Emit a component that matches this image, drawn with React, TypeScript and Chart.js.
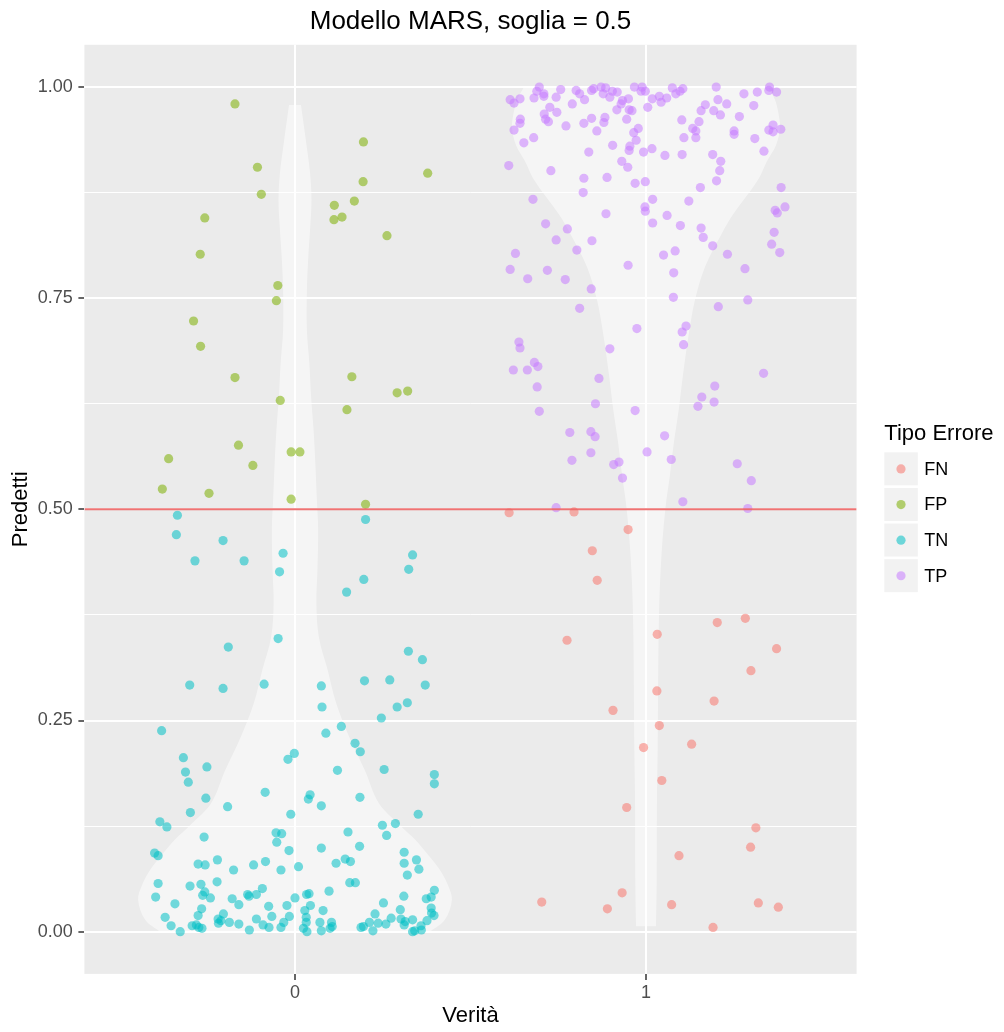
import React, { useEffect, useRef } from 'react';
import { Chart, registerables } from 'chart.js';

Chart.register(...registerables);

// ---------------- data ----------------
const chartTitle = 'Modello MARS, soglia = 0.5';
const xAxisTitle = 'Verità';
const yAxisTitle = 'Predetti';
const legendTitle = 'Tipo Errore';

const categories = ['FN', 'FP', 'TN', 'TP'];
const categoryColors = [
  'rgba(248,118,109,0.55)',
  'rgba(124,174,0,0.55)',
  'rgba(0,191,196,0.55)',
  'rgba(199,124,255,0.55)',
];

const xTickValues = [0, 1];
const xTickLabels = ['0', '1'];
const yMajorValues = [0, 0.25, 0.5, 0.75, 1];
const yTickLabels = ['0.00', '0.25', '0.50', '0.75', '1.00'];
const yMinorValues = [0.125, 0.375, 0.625, 0.875];
const threshold = 0.5;

const fnX = [0.610,0.795,0.949,0.847,0.861,1.203,1.283,0.775,1.032,1.372,
  1.299,1.031,1.194,0.906,1.038,1.130,0.993,1.045,0.945,1.313,
  1.298,1.094,0.932,0.703,0.890,1.073,1.320,1.377,1.191];
const fnY = [0.496,0.497,0.476,0.451,0.416,0.366,0.371,0.345,0.352,0.335,
  0.309,0.285,0.273,0.262,0.244,0.222,0.218,0.179,0.147,0.123,
  0.100,0.090,0.046,0.035,0.027,0.032,0.034,0.029,0.005];

const fpX = [-0.171,0.195,-0.107,0.378,0.194,-0.096,0.112,0.169,-0.257,0.111,
  0.134,0.262,-0.270,-0.049,-0.053,-0.289,-0.269,-0.171,0.162,0.291,
  0.321,-0.042,0.148,-0.161,-0.360,-0.120,-0.011,0.014,-0.378,-0.245,
  -0.011,0.201];
const fpY = [0.980,0.935,0.905,0.898,0.888,0.873,0.860,0.865,0.845,0.843,
  0.846,0.824,0.802,0.765,0.747,0.723,0.693,0.656,0.657,0.638,
  0.640,0.629,0.618,0.576,0.560,0.552,0.568,0.568,0.524,0.519,
  0.512,0.506];

const tnX = [-0.335,-0.338,-0.205,-0.285,-0.145,-0.034,-0.044,0.201,0.335,0.324,
  0.196,0.147,-0.048,-0.190,0.323,0.363,-0.300,-0.205,-0.088,0.075,
  0.198,0.270,0.371,0.077,0.320,0.291,0.246,-0.380,0.132,0.088,
  0.171,0.186,-0.318,-0.002,-0.020,-0.312,-0.251,0.121,0.254,0.397,
  0.397,-0.304,-0.254,-0.085,0.043,0.038,0.185,0.075,-0.192,-0.298,
  -0.012,-0.385,-0.365,-0.259,-0.054,-0.038,-0.052,-0.017,-0.400,-0.390,
  -0.221,-0.276,-0.256,-0.118,-0.084,-0.175,-0.040,0.010,-0.390,-0.299,
  -0.268,-0.222,-0.257,-0.263,-0.241,-0.397,-0.135,-0.131,-0.110,-0.093,
  -0.179,-0.160,-0.342,-0.266,-0.075,-0.023,0.000,-0.276,-0.370,-0.204,
  -0.219,-0.066,-0.016,-0.110,-0.353,-0.327,-0.293,-0.281,-0.274,-0.265,
  -0.218,-0.211,-0.187,-0.160,-0.130,-0.091,-0.074,-0.040,-0.032,
  0.351,0.249,0.286,0.261,0.151,0.075,0.184,0.311,0.117,0.143,
  0.158,0.311,0.346,0.353,0.320,0.156,0.172,0.033,0.040,0.097,
  0.310,0.397,0.374,0.388,0.044,0.080,0.252,0.300,0.388,0.028,
  0.032,0.032,0.396,0.389,0.071,0.104,0.228,0.274,0.237,0.259,
  0.302,0.314,0.335,0.376,0.212,0.106,0.100,0.188,0.195,0.311,
  0.359,0.024,0.034,0.075,0.222,0.335,0.341,0.360];
const tnY = [0.493,0.470,0.463,0.439,0.439,0.448,0.426,0.488,0.446,0.429,
  0.417,0.402,0.347,0.337,0.332,0.322,0.292,0.288,0.293,0.291,
  0.297,0.298,0.292,0.266,0.271,0.266,0.253,0.238,0.243,0.235,
  0.223,0.213,0.206,0.211,0.204,0.189,0.195,0.191,0.192,0.186,
  0.175,0.177,0.158,0.165,0.162,0.157,0.159,0.149,0.148,0.141,
  0.139,0.130,0.124,0.112,0.117,0.116,0.106,0.096,0.093,0.090,
  0.085,0.080,0.079,0.079,0.083,0.073,0.073,0.077,0.057,0.054,
  0.056,0.059,0.047,0.043,0.040,0.041,0.044,0.042,0.044,0.051,
  0.039,0.032,0.033,0.027,0.030,0.031,0.040,0.019,0.017,0.021,
  0.015,0.018,0.018,0.015,0.007,0.000,0.007,0.008,0.005,0.004,
  0.010,0.013,0.011,0.009,0.002,0.008,0.005,0.005,0.011,
  0.139,0.126,0.128,0.114,0.118,0.099,0.101,0.094,0.081,0.086,
  0.083,0.081,0.085,0.074,0.067,0.058,0.058,0.044,0.045,0.048,
  0.042,0.049,0.039,0.041,0.031,0.025,0.034,0.026,0.028,0.025,
  0.017,0.011,0.019,0.022,0.011,0.011,0.021,0.016,0.010,0.009,
  0.015,0.012,0.014,0.013,0.011,0.006,0.004,0.005,0.006,0.008,
  0.007,0.004,0.000,0.001,0.001,0.000,0.001,0.002];

const tpX = [0.696,0.689,0.709,0.709,0.681,0.613,0.624,0.641,0.744,0.757,
  0.801,0.811,0.825,0.790,0.726,0.746,0.710,0.714,0.722,0.642,
  0.641,0.624,0.845,0.851,0.872,0.885,0.878,0.897,0.904,0.918,
  0.967,0.989,0.986,0.998,0.933,0.929,0.950,0.917,0.952,0.960,
  1.005,0.845,0.823,0.772,0.883,0.880,0.860,0.945,0.978,0.965,
  0.972,0.954,0.952,0.993,0.905,0.837,0.680,0.652,0.931,0.948,
  0.609,0.729,0.823,0.889,0.969,0.998,0.821,0.678,0.997,1.075,
  1.105,1.097,1.085,1.018,1.038,1.059,1.043,1.200,1.279,1.317,
  1.352,1.350,1.372,1.205,1.230,1.169,1.157,1.193,1.212,1.307,
  1.266,1.102,1.151,1.133,1.142,1.142,1.108,1.251,1.251,1.310,
  1.350,1.362,1.362,1.384,1.336,1.017,1.054,1.103,1.190,1.213,
  1.210,1.201,1.155,1.385,1.019,1.122,
  0.886,0.998,1.060,1.019,1.098,1.157,1.163,1.190,1.232,1.282,
  1.368,1.374,1.396,1.365,1.358,1.381,0.714,0.776,0.744,0.846,
  0.803,0.628,0.613,0.663,0.719,0.770,0.949,1.050,1.083,1.079,
  0.844,1.078,1.290,1.206,0.811,0.974,1.114,1.103,1.107,0.638,
  0.641,0.897,0.682,0.692,0.622,0.662,0.866,1.335,
  0.690,1.196,1.159,1.194,1.148,0.856,0.696,0.969,0.783,0.843,
  0.855,1.053,0.843,0.789,1.003,1.072,0.908,0.923,0.933,1.260,
  1.300,1.105,0.744,1.290];
const tpY = [1.000,0.995,0.992,0.989,0.987,0.985,0.981,0.986,0.988,0.997,
  0.996,0.992,0.985,0.980,0.976,0.970,0.968,0.962,0.959,0.962,
  0.957,0.949,0.996,0.998,1.000,0.999,0.992,0.988,0.995,0.994,
  1.000,1.000,0.995,0.995,0.984,0.980,0.986,0.973,0.973,0.972,
  0.976,0.963,0.957,0.954,0.964,0.958,0.948,0.962,0.951,0.946,
  0.937,0.930,0.925,0.923,0.931,0.923,0.940,0.934,0.912,0.905,
  0.907,0.901,0.892,0.893,0.886,0.888,0.875,0.867,0.858,0.999,
  0.998,0.995,0.992,0.986,0.989,0.987,0.982,1.000,0.992,0.994,
  1.000,0.996,0.994,0.985,0.980,0.979,0.972,0.972,0.967,0.978,
  0.965,0.961,0.959,0.951,0.948,0.940,0.940,0.948,0.944,0.939,
  0.949,0.955,0.947,0.950,0.924,0.927,0.919,0.920,0.920,0.912,
  0.901,0.889,0.881,0.881,0.867,0.865,
  0.850,0.853,0.848,0.839,0.836,0.833,0.822,0.812,0.802,0.785,
  0.854,0.851,0.858,0.828,0.814,0.804,0.838,0.832,0.819,0.818,
  0.807,0.803,0.784,0.773,0.783,0.772,0.789,0.801,0.806,0.780,
  0.761,0.751,0.748,0.740,0.738,0.714,0.717,0.710,0.695,0.698,
  0.691,0.690,0.674,0.669,0.665,0.665,0.655,0.661,
  0.645,0.646,0.633,0.627,0.622,0.625,0.616,0.617,0.591,0.592,
  0.586,0.587,0.567,0.558,0.568,0.559,0.553,0.556,0.537,0.554,
  0.534,0.509,0.502,0.501];

// violin outlines: value along y and half-width along x (in x-axis units)
const violinCenters = [0, 1];
const violin0Y = [0.000,0.014,0.0375,0.055,0.073,0.091,0.109,0.126,0.152,0.191,
  0.231,0.271,0.310,0.349,0.389,0.428,0.476,0.515,0.555,0.594,
  0.633,0.673,0.712,0.760,0.799,0.831,0.866,0.898,0.937,0.979];
const violin0W = [0.385,0.427,0.447,0.436,0.413,0.379,0.342,0.299,0.239,0.199,
  0.154,0.117,0.093,0.068,0.061,0.064,0.066,0.062,0.058,0.053,
  0.046,0.041,0.034,0.034,0.038,0.043,0.047,0.043,0.031,0.017];
const violin1Y = [0.006,0.058,0.156,0.215,0.373,0.446,0.502,0.541,0.580,0.620,
  0.659,0.709,0.748,0.787,0.827,0.849,0.870,0.892,0.912,0.931,
  0.952,0.972,0.985,1.000];
const violin1W = [0.0285,0.0305,0.0313,0.0333,0.037,0.0442,0.0556,0.0684,0.0798,0.094,
  0.1054,0.1225,0.1396,0.1681,0.2165,0.2479,0.2849,0.3219,0.3447,0.3704,
  0.3818,0.376,0.3675,0.3476];

// ---------------- helpers ----------------
const FONT = '"Liberation Sans", Arial, Helvetica, sans-serif';
const POINT_R = 4.6;
const pointSeries = [
  { xs: fnX, ys: fnY },
  { xs: fpX, ys: fpY },
  { xs: tnX, ys: tnY },
  { xs: tpX, ys: tpY },
];
const violinSeries = [
  { ys: violin0Y, ws: violin0W },
  { ys: violin1Y, ws: violin1W },
];
const isMajorY = (v: any) =>
  typeof v === 'number' && yMajorValues.some((m) => Math.abs(m - v) < 1e-9);

const backgroundPlugin = {
  id: 'panelBackground',
  beforeDraw(chart: any) {
    const { ctx, chartArea: a } = chart;
    ctx.save();
    ctx.fillStyle = '#EBEBEB';
    ctx.fillRect(a.left, a.top, a.right - a.left, a.bottom - a.top);
    ctx.restore();
  },
};

const legendPlugin = {
  id: 'ggLegend',
  afterDraw(chart: any) {
    const { ctx, chartArea: a } = chart;
    const left = a.right + 27.7;
    const mid = (a.top + a.bottom) / 2;
    ctx.save();
    ctx.textBaseline = 'middle';
    ctx.textAlign = 'left';
    ctx.fillStyle = '#000000';
    ctx.font = `22px ${FONT}`;
    ctx.fillText(legendTitle, left, mid - 75);
    categories.forEach((c, i) => {
      const top = mid - 57 + i * 35.6;
      ctx.fillStyle = '#F2F2F2';
      ctx.fillRect(left, top, 33.5, 33);
      ctx.fillStyle = categoryColors[i];
      ctx.beginPath();
      ctx.arc(left + 16.7, top + 16.6, POINT_R, 0, Math.PI * 2);
      ctx.fill();
      ctx.fillStyle = '#000000';
      ctx.font = `18px ${FONT}`;
      ctx.fillText(c, left + 40, top + 17.5);
    });
    ctx.restore();
  },
};

export default function App() {
  const canvasRef = useRef<HTMLCanvasElement | null>(null);

  useEffect(() => {
    if (!canvasRef.current) return;

    const datasets: any[] = [];

    // horizontal threshold line
    datasets.push({
      type: 'line',
      label: 'soglia',
      data: [
        { x: -0.6, y: threshold },
        { x: 1.6, y: threshold },
      ],
      borderColor: 'rgba(236,100,100,0.9)',
      borderWidth: 2,
      pointRadius: 0,
      fill: false,
      order: 1,
    });

    // jittered points
    pointSeries.forEach((s, i) => {
      datasets.push({
        type: 'scatter',
        label: categories[i],
        data: s.xs.map((x, j) => ({ x, y: s.ys[j] })),
        backgroundColor: categoryColors[i],
        borderWidth: 0,
        borderColor: 'rgba(0,0,0,0)',
        pointRadius: POINT_R,
        pointHoverRadius: POINT_R,
        order: 2,
      });
    });

    // violins (two halves each, filled toward the centre)
    violinSeries.forEach((v, k) => {
      const c = violinCenters[k];
      [1, -1].forEach((side) => {
        datasets.push({
          type: 'line',
          label: `violin${k}${side}`,
          indexAxis: 'y',
          data: v.ys.map((y, j) => ({ x: c + side * v.ws[j], y })),
          borderColor: 'rgba(0,0,0,0)',
          borderWidth: 0,
          backgroundColor: 'rgba(255,255,255,0.5)',
          fill: { value: c },
          pointRadius: 0,
          tension: 0.35,
          order: 3,
        });
      });
    });

    const chart = new Chart(canvasRef.current, {
      type: 'scatter',
      data: { datasets },
      plugins: [backgroundPlugin, legendPlugin],
      options: {
        animation: false,
        responsive: false,
        devicePixelRatio: 1,
        events: [],
        layout: { padding: { left: 0, right: 147.4, top: 0, bottom: 0 } },
        plugins: {
          legend: { display: false },
          tooltip: { enabled: false },
          title: {
            display: true,
            text: chartTitle,
            color: '#000000',
            fullSize: false,
            font: { family: FONT, size: 26, weight: 'normal', lineHeight: 1 },
            padding: { top: 8.5, bottom: 10.3 },
          },
        },
        scales: {
          x: {
            type: 'linear',
            min: -0.6,
            max: 1.6,
            afterBuildTicks: (s: any) => {
              s.ticks = xTickValues.map((v) => ({ value: v }));
            },
            afterFit: (s: any) => {
              s.height = 58.1;
            },
            grid: {
              color: '#FFFFFF',
              lineWidth: 2,
              tickColor: '#333333',
              tickWidth: 1.5,
              tickLength: 6,
            },
            border: { display: false },
            ticks: {
              autoSkip: false,
              maxRotation: 0,
              color: '#4D4D4D',
              padding: 4.5,
              font: { family: FONT, size: 18, lineHeight: 1 },
              callback: (v: any) => {
                const i = xTickValues.indexOf(Number(v));
                return i >= 0 ? xTickLabels[i] : '';
              },
            },
            title: {
              display: true,
              text: xAxisTitle,
              color: '#000000',
              font: { family: FONT, size: 22, lineHeight: 1 },
              padding: { top: 0, bottom: 5.3 },
            },
          },
          y: {
            type: 'linear',
            min: -0.05,
            max: 1.05,
            afterBuildTicks: (s: any) => {
              s.ticks = [...yMajorValues, ...yMinorValues]
                .sort((a, b) => a - b)
                .map((v) => ({ value: v }));
            },
            afterFit: (s: any) => {
              s.width = 84.4;
            },
            grid: {
              color: '#FFFFFF',
              lineWidth: (ctx: any) => (ctx.tick && isMajorY(ctx.tick.value) ? 2 : 1),
              tickColor: (ctx: any) =>
                ctx.tick && isMajorY(ctx.tick.value) ? '#333333' : 'rgba(0,0,0,0)',
              tickWidth: 1.5,
              tickLength: 6,
            },
            border: { display: false },
            ticks: {
              autoSkip: false,
              color: '#4D4D4D',
              padding: 5.7,
              font: { family: FONT, size: 18, lineHeight: 1 },
              callback: (v: any) => {
                const i = yMajorValues.findIndex((m) => Math.abs(m - Number(v)) < 1e-9);
                return i >= 0 ? yTickLabels[i] : '';
              },
            },
            title: {
              display: true,
              text: yAxisTitle,
              color: '#000000',
              font: { family: FONT, size: 22, lineHeight: 1 },
              padding: { top: 10, bottom: 0 },
            },
          },
        },
      } as any,
    } as any);

    return () => {
      chart.destroy();
    };
  }, []);

  return (
    <div style={{ position: 'absolute', left: 0, top: 0, width: 1004, height: 1032, background: '#FFFFFF' }}>
      <canvas ref={canvasRef} width={1004} height={1032} style={{ display: 'block' }} />
    </div>
  );
}
